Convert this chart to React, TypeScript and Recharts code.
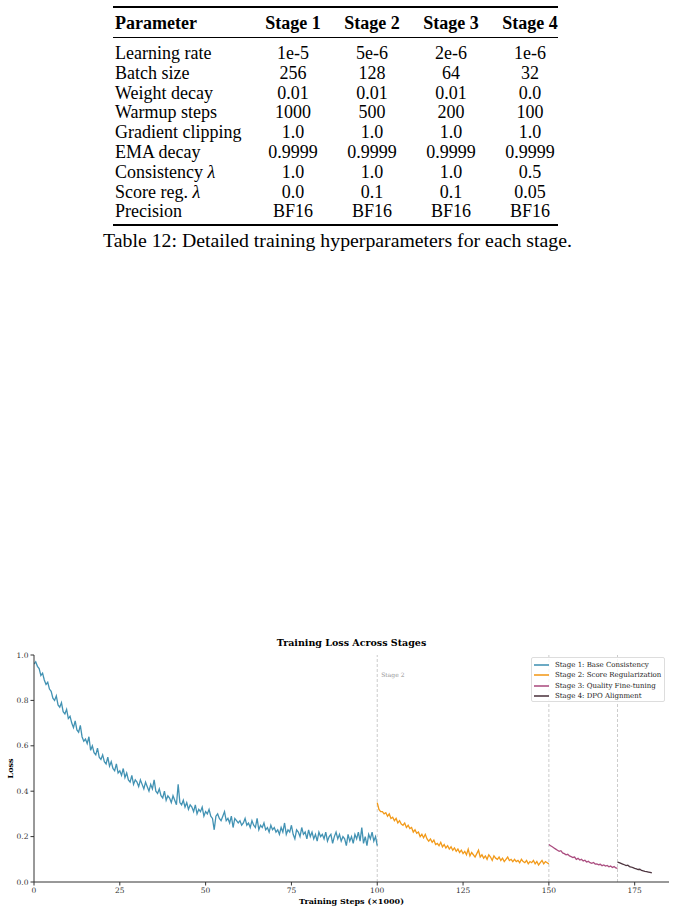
import { LineChart, Line, XAxis, YAxis, ReferenceLine, Label } from "recharts";

// ---- table data ----
const paramNames = [
  "Learning rate",
  "Batch size",
  "Weight decay",
  "Warmup steps",
  "Gradient clipping",
  "EMA decay",
  "Consistency λ",
  "Score reg. λ",
  "Precision",
];
const stageHeaders = ["Stage 1", "Stage 2", "Stage 3", "Stage 4"];
const stage1Params = ["1e-5", "256", "0.01", "1000", "1.0", "0.9999", "1.0", "0.0", "BF16"];
const stage2Params = ["5e-6", "128", "0.01", "500", "1.0", "0.9999", "1.0", "0.1", "BF16"];
const stage3Params = ["2e-6", "64", "0.01", "200", "1.0", "0.9999", "1.0", "0.1", "BF16"];
const stage4Params = ["1e-6", "32", "0.0", "100", "1.0", "0.9999", "0.5", "0.05", "BF16"];
const tableCaption = "Table 12: Detailed training hyperparameters for each stage.";

const stageNames = [
  "Stage 1: Base Consistency",
  "Stage 2: Score Regularization",
  "Stage 3: Quality Fine-tuning",
  "Stage 4: DPO Alignment",
];
const stageColors = ["#2E86AB", "#F18F01", "#A23B72", "#3B1F2B"];
const stageStart = [0, 100, 150, 170];
const boundaries = [100, 150, 170];
const STEP = 0.5;

const stage1Loss = [
  0.96, 0.97, 0.95, 0.94, 0.91, 0.92, 0.89, 0.87, 0.88, 0.85,
  0.84, 0.81, 0.8, 0.82, 0.78, 0.77, 0.79, 0.75, 0.74, 0.76,
  0.72, 0.73, 0.7, 0.68, 0.71, 0.67, 0.66, 0.69, 0.64, 0.62,
  0.63, 0.61, 0.64, 0.58, 0.6, 0.57, 0.56, 0.59, 0.55, 0.54,
  0.56, 0.53, 0.52, 0.55, 0.51, 0.53, 0.5, 0.49, 0.52, 0.48,
  0.49, 0.47, 0.5, 0.46, 0.48, 0.45, 0.44, 0.47, 0.43, 0.45,
  0.44, 0.42, 0.45, 0.43, 0.41, 0.44, 0.42, 0.4, 0.43, 0.41,
  0.45, 0.4, 0.39, 0.41, 0.38, 0.37, 0.4, 0.36, 0.38, 0.37,
  0.35, 0.38, 0.36, 0.34, 0.43, 0.35, 0.34, 0.36, 0.33, 0.35,
  0.32, 0.34, 0.33, 0.31, 0.34, 0.3, 0.32, 0.31, 0.33, 0.29,
  0.31, 0.3, 0.32, 0.29, 0.28, 0.23, 0.29, 0.3, 0.28, 0.27,
  0.29, 0.31, 0.27, 0.28, 0.26, 0.29, 0.24, 0.28, 0.27, 0.26,
  0.27, 0.25, 0.26, 0.28, 0.25, 0.26, 0.24, 0.27, 0.25, 0.24,
  0.28, 0.23, 0.25, 0.24, 0.26, 0.23, 0.24, 0.22, 0.25, 0.23,
  0.24, 0.22, 0.23, 0.21, 0.24, 0.22, 0.26, 0.21, 0.23, 0.22,
  0.25, 0.21, 0.19, 0.23, 0.22, 0.2, 0.24, 0.21, 0.22, 0.19,
  0.23, 0.2, 0.22, 0.19, 0.21, 0.18, 0.22, 0.2, 0.21, 0.19,
  0.22, 0.18, 0.2, 0.21, 0.17, 0.2, 0.22, 0.19, 0.21, 0.18,
  0.2, 0.19, 0.16, 0.21, 0.18, 0.2, 0.17, 0.21, 0.19, 0.22,
  0.18, 0.24, 0.17, 0.2, 0.16, 0.21, 0.19, 0.22, 0.18, 0.2,
  0.16,
];
const stage2Loss = [
  0.35, 0.32, 0.31, 0.31, 0.3, 0.305, 0.29, 0.3, 0.28, 0.285,
  0.27, 0.28, 0.26, 0.27, 0.255, 0.25, 0.26, 0.24, 0.25, 0.235,
  0.24, 0.22, 0.23, 0.215, 0.22, 0.2, 0.21, 0.195, 0.21, 0.19,
  0.18, 0.19, 0.175, 0.185, 0.165, 0.17, 0.16, 0.175, 0.155, 0.165,
  0.15, 0.16, 0.145, 0.155, 0.14, 0.15, 0.135, 0.145, 0.13, 0.14,
  0.125, 0.135, 0.12, 0.145, 0.115, 0.13, 0.12, 0.11, 0.125, 0.14,
  0.11, 0.12, 0.105, 0.115, 0.1, 0.12, 0.11, 0.095, 0.115, 0.105,
  0.1, 0.11, 0.095, 0.105, 0.09, 0.1, 0.11, 0.095, 0.1, 0.09,
  0.1, 0.09, 0.095, 0.085, 0.1, 0.09, 0.085, 0.095, 0.08, 0.09,
  0.085, 0.095, 0.08, 0.09, 0.075, 0.085, 0.095, 0.08, 0.09, 0.085,
  0.08,
];
const stage3Loss = [
  0.165, 0.16, 0.155, 0.15, 0.145, 0.14, 0.135, 0.138, 0.128, 0.125,
  0.12, 0.122, 0.115, 0.112, 0.108, 0.11, 0.1, 0.104, 0.097, 0.1,
  0.093, 0.096, 0.088, 0.091, 0.085, 0.082, 0.086, 0.079, 0.08, 0.076,
  0.078, 0.072, 0.075, 0.07, 0.073, 0.067, 0.07, 0.064, 0.068, 0.062,
  0.06,
];
const stage4Loss = [
  0.088, 0.085, 0.082, 0.079, 0.076, 0.072, 0.074, 0.068, 0.066, 0.063,
  0.06, 0.058, 0.055, 0.056, 0.051, 0.049, 0.047, 0.046, 0.044, 0.042,
  0.04,
];
const xTicks = [0, 25, 50, 75, 100, 125, 150, 175];
const yTicks = [0, 0.2, 0.4, 0.6, 0.8, 1.0];

const allLoss = [stage1Loss, stage2Loss, stage3Loss, stage4Loss];
const series = allLoss.map((vals, s) =>
  vals.map((loss, i) => ({ step: stageStart[s] + i * STEP, loss }))
);

const serif = "'DejaVu Serif', serif";
const times = "'Liberation Serif', 'Times New Roman', serif";
const colCenters = [293, 372, 451, 530];
const stageCols = [stage1Params, stage2Params, stage3Params, stage4Params];

function withLambda(s: string) {
  if (!s.includes("λ")) return s;
  const [a] = s.split("λ");
  return (
    <>
      {a}
      <i>λ</i>
    </>
  );
}

function ParamTable() {
  const rowY = (i: number) => 53 + i * 19.8;
  return (
    <div style={{ position: "absolute", left: 0, top: 0, width: 675, height: 260, fontFamily: times, fontSize: 18, color: "#000" }}>
      <div style={{ position: "absolute", left: 113, width: 445, top: 6, height: 1.6, background: "#000" }} />
      <div style={{ position: "absolute", left: 113, width: 445, top: 36.5, height: 1, background: "#000" }} />
      <div style={{ position: "absolute", left: 113, width: 445, top: 224, height: 1.6, background: "#000" }} />
      <div style={{ position: "absolute", left: 115, top: 22.5 - 11, lineHeight: "22px", fontWeight: "bold" }}>Parameter</div>
      {stageHeaders.map((h, c) => (
        <div key={h} style={{ position: "absolute", left: colCenters[c] - 45, width: 90, textAlign: "center", top: 22.5 - 11, lineHeight: "22px", fontWeight: "bold" }}>
          {h}
        </div>
      ))}
      {paramNames.map((p, r) => (
        <div key={p}>
          <div style={{ position: "absolute", left: 115, top: rowY(r) - 11, lineHeight: "22px", whiteSpace: "nowrap" }}>{withLambda(p)}</div>
          {stageCols.map((col, c) => (
            <div key={c} style={{ position: "absolute", left: colCenters[c] - 45, width: 90, textAlign: "center", top: rowY(r) - 11, lineHeight: "22px" }}>
              {col[r]}
            </div>
          ))}
        </div>
      ))}
      <div style={{ position: "absolute", left: 0, width: 675, textAlign: "center", top: 240 - 12, lineHeight: "24px", fontSize: 19.8 }}>
        {tableCaption}
      </div>
    </div>
  );
}

function LossChart() {
  const tickStyle = { fontSize: 7.5, fill: "#333", fontFamily: serif };
  return (
    <div style={{ position: "absolute", left: 0, top: 630, width: 675, height: 283 }}>
      <div style={{ position: "absolute", left: 251.5, width: 200, top: 7, textAlign: "center", fontFamily: serif, fontWeight: "bold", fontSize: 9.5, lineHeight: "12px" }}>
        Training Loss Across Stages
      </div>
      <LineChart width={675} height={283} margin={{ top: 25, right: 6, bottom: 0, left: 0 }}>
        <XAxis
          dataKey="step"
          type="number"
          domain={[0, 185]}
          ticks={xTicks}
          allowDataOverflow
          height={31}
          tickSize={3.5}
          tickMargin={2}
          tick={tickStyle}
          stroke="#333"
          interval={0}
        >
          <Label
            content={(p: any) => (
              <text x={p.viewBox.x + p.viewBox.width / 2} y={p.viewBox.y + 22} textAnchor="middle" fontFamily={serif} fontWeight="bold" fontSize={8} fill="#000">
                Training Steps (×1000)
              </text>
            )}
          />
        </XAxis>
        <YAxis
          type="number"
          domain={[0, 1]}
          ticks={yTicks}
          width={34}
          tickSize={3.5}
          tickMargin={2}
          tick={tickStyle}
          stroke="#333"
          tickFormatter={(v: number) => v.toFixed(1)}
          interval={0}
        >
          <Label
            content={(p: any) => {
              const cy = p.viewBox.y + p.viewBox.height / 2;
              return (
                <text x={10} y={cy} transform={`rotate(-90 10 ${cy})`} textAnchor="middle" dominantBaseline="central" fontFamily={serif} fontWeight="bold" fontSize={8} fill="#000">
                  Loss
                </text>
              );
            }}
          />
        </YAxis>
        {boundaries.map((b, i) => (
          <ReferenceLine
            key={b}
            x={b}
            stroke="#999"
            strokeOpacity={0.5}
            strokeDasharray="3 2"
            ifOverflow="extendDomain"
            label={
              i === 0
                ? (p: any) => (
                    <text x={p.viewBox.x + 4} y={p.viewBox.y + 22} fontFamily={serif} fontSize={6} fill="#999">
                      Stage 2
                    </text>
                  )
                : undefined
            }
          />
        ))}
        {series.map((rows, s) => (
          <Line
            key={s}
            data={rows}
            dataKey="loss"
            name={stageNames[s]}
            stroke={stageColors[s]}
            strokeOpacity={0.9}
            strokeWidth={1.3}
            dot={false}
            isAnimationActive={false}
            type="linear"
          />
        ))}
      </LineChart>
      <div
        style={{
          position: "absolute",
          left: 531,
          top: 27,
          width: 134,
          height: 45,
          boxSizing: "border-box",
          border: "1px solid #ddd",
          borderRadius: 2,
          background: "rgba(255,255,255,0.8)",
          fontFamily: serif,
          fontSize: 7,
          color: "#222",
          paddingTop: 2,
        }}
      >
        {stageNames.map((n, i) => (
          <div key={n} style={{ display: "flex", alignItems: "center", height: 10.3, whiteSpace: "nowrap" }}>
            <span style={{ display: "inline-block", width: 15, height: 2, flexShrink: 0, marginLeft: 2, marginRight: 6, background: stageColors[i], opacity: 0.7 }} />
            {n}
          </div>
        ))}
      </div>
    </div>
  );
}

export default function App() {
  return (
    <div style={{ position: "relative", width: 675, height: 913, background: "#fff" }}>
      <style>{`body{margin:0}`}</style>
      <ParamTable />
      <LossChart />
    </div>
  );
}
